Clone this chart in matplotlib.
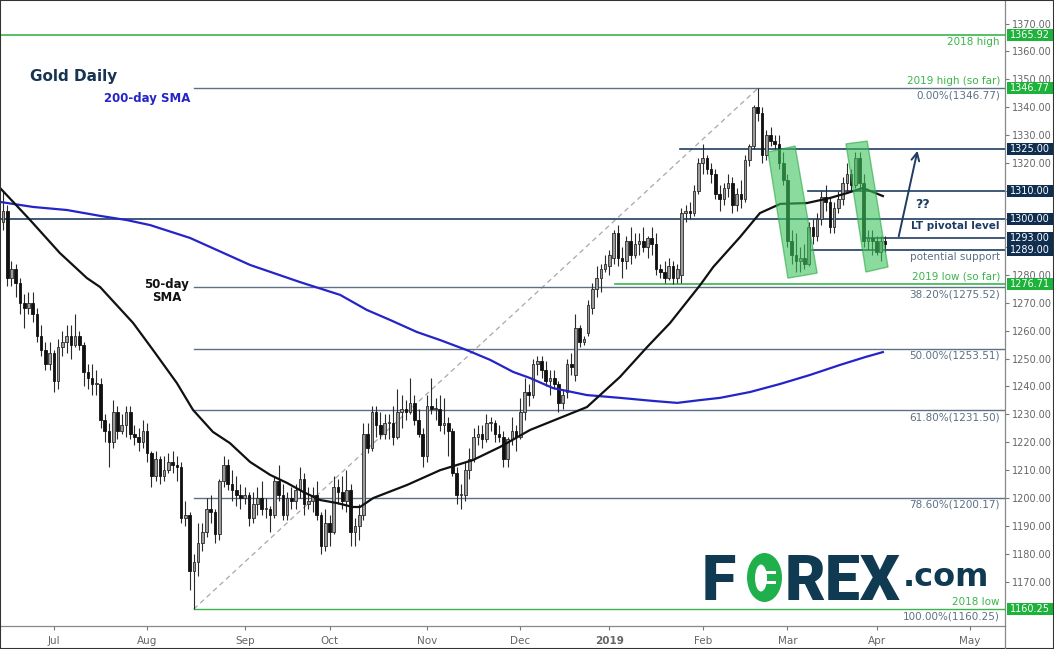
import numpy as np
import pandas as pd
import matplotlib
matplotlib.use("Agg")
import matplotlib.pyplot as plt
from matplotlib.patches import Polygon, Ellipse, Rectangle
from matplotlib.lines import Line2D

# daily gold candles, 14 Jun 2018 - 3 Apr 2019 (no candle on 1 Jan)
opens = [
    1299, 1303, 1279, 1282, 1277, 1270, 1268, 1270, 1266, 1258, 1253, 1248,
    1252, 1242, 1254, 1256, 1258, 1255, 1258, 1255, 1245, 1243, 1241, 1241,
    1228, 1224, 1220, 1231, 1224, 1226, 1231, 1223, 1222, 1220,
    1224, 1216, 1208, 1214, 1208, 1210, 1213, 1212, 1211, 1193, 1194, 1174,
    1177, 1184, 1188, 1196, 1195, 1187, 1206, 1212, 1205, 1203, 1201,
    1200, 1201, 1193, 1198, 1200, 1196, 1196, 1194, 1206, 1201, 1194, 1200,
    1199, 1203, 1207, 1198, 1199, 1201, 1194, 1183,
    1191, 1188, 1204, 1202, 1199, 1203, 1188, 1190, 1194, 1223, 1218, 1231,
    1226, 1223, 1227, 1227, 1222, 1231, 1232, 1231, 1234, 1228, 1223,
    1215, 1233, 1232, 1232, 1226, 1227, 1224, 1209, 1201, 1201, 1210, 1214,
    1222, 1223, 1221, 1227, 1227, 1223, 1222, 1214, 1221, 1224,
    1222, 1231, 1238, 1237, 1248, 1249, 1246, 1242, 1243, 1241, 1234, 1238,
    1248, 1244, 1261, 1256, 1259, 1268, 1275, 1279,
    1282, 1283, 1286, 1295, 1286, 1285, 1292, 1287, 1291, 1292, 1290, 1293,
    1291, 1282, 1281, 1279, 1283, 1279, 1280, 1302, 1303, 1302, 1310,
    1320, 1322, 1318, 1316, 1309, 1307, 1311, 1313, 1305, 1309, 1307, 1321,
    1326, 1340, 1338, 1323, 1330, 1328, 1327, 1320,
    1314, 1292, 1287, 1285, 1286, 1284, 1297, 1294, 1300, 1308, 1306, 1297,
    1304, 1307, 1313, 1316, 1312, 1322, 1313, 1292, 1293, 1292,
    1288, 1292,
]
highs = [
    1310, 1305, 1285, 1284, 1279, 1273, 1274, 1274, 1268, 1262, 1256, 1256,
    1253, 1257, 1260, 1262, 1262, 1266, 1260, 1256, 1248, 1248, 1246, 1243,
    1230, 1227, 1235, 1233, 1230, 1233, 1233, 1226, 1225, 1228,
    1227, 1217, 1217, 1215, 1215, 1216, 1217, 1215, 1213, 1199, 1195, 1180,
    1191, 1191, 1200, 1201, 1196, 1207, 1215, 1214, 1210, 1208, 1205,
    1204, 1202, 1202, 1204, 1206, 1200, 1197, 1208, 1212, 1205, 1202, 1204,
    1205, 1211, 1209, 1204, 1204, 1206, 1195, 1196,
    1194, 1208, 1207, 1208, 1210, 1205, 1193, 1198, 1227, 1227, 1233, 1233,
    1231, 1230, 1230, 1233, 1239, 1237, 1235, 1243, 1237, 1232, 1225,
    1237, 1243, 1236, 1237, 1236, 1229, 1225, 1211, 1205, 1213, 1218, 1225,
    1226, 1226, 1230, 1229, 1228, 1226, 1224, 1222, 1229, 1226,
    1236, 1243, 1241, 1250, 1251, 1251, 1249, 1246, 1246, 1242, 1239, 1250,
    1252, 1266, 1262, 1258, 1271, 1277, 1283, 1284,
    1287, 1289, 1296, 1298, 1290, 1294, 1297, 1295, 1295, 1297, 1294, 1297,
    1295, 1284, 1285, 1286, 1285, 1284, 1304, 1305, 1306, 1312, 1322,
    1327, 1323, 1320, 1318, 1312, 1313, 1316, 1315, 1311, 1314, 1323, 1327,
    1341, 1346.77, 1340, 1332, 1333, 1330, 1330, 1324,
    1316, 1296, 1295, 1290, 1291, 1299, 1300, 1302, 1310, 1312, 1308, 1306,
    1310, 1315, 1320, 1318, 1324, 1324, 1316, 1296, 1296, 1294,
    1294, 1294,
]
lows = [
    1296, 1276, 1276, 1272, 1266, 1261, 1266, 1263, 1256, 1251, 1246, 1246,
    1238, 1239, 1251, 1252, 1250, 1254, 1253, 1240, 1239, 1237, 1237, 1225,
    1220, 1211, 1218, 1221, 1223, 1222, 1221, 1219, 1217, 1218,
    1213, 1204, 1206, 1205, 1206, 1209, 1209, 1206, 1191, 1190, 1167, 1160.25,
    1172, 1181, 1186, 1191, 1184, 1185, 1204, 1203, 1199, 1197, 1196,
    1198, 1190, 1191, 1194, 1194, 1193, 1188, 1193, 1199, 1192, 1192, 1196,
    1196, 1200, 1194, 1196, 1195, 1192, 1180, 1181,
    1183, 1187, 1198, 1196, 1195, 1183, 1183, 1185, 1192, 1216, 1217, 1222,
    1221, 1221, 1221, 1219, 1221, 1225, 1228, 1230, 1226, 1222, 1211,
    1213, 1230, 1228, 1224, 1223, 1215, 1208, 1198, 1196, 1199, 1207, 1213,
    1219, 1218, 1220, 1224, 1220, 1220, 1211, 1211, 1219, 1217,
    1221, 1228, 1233, 1236, 1244, 1243, 1240, 1237, 1239, 1231, 1232, 1236,
    1244, 1242, 1254, 1255, 1258, 1266, 1272, 1274,
    1281, 1280, 1284, 1283, 1279, 1282, 1284, 1286, 1287, 1288, 1286, 1287,
    1280, 1279, 1277, 1278, 1276.71, 1277, 1277, 1299, 1300, 1301, 1309,
    1316, 1316, 1313, 1307, 1303, 1305, 1308, 1302, 1303, 1304, 1306, 1319,
    1325, 1335, 1320, 1321, 1326, 1325, 1318, 1312,
    1290, 1284, 1281, 1281, 1282, 1283, 1291, 1292, 1298, 1303, 1295, 1295,
    1302, 1305, 1310, 1310, 1311, 1310, 1290, 1289, 1287, 1287,
    1285, 1288,
]
closes = [
    1303, 1279, 1282, 1277, 1270, 1268, 1270, 1266, 1258, 1253, 1248, 1252,
    1242, 1254, 1256, 1258, 1255, 1258, 1255, 1245, 1243, 1241, 1241, 1228,
    1224, 1220, 1231, 1224, 1226, 1231, 1223, 1222, 1220, 1224,
    1216, 1208, 1214, 1208, 1210, 1213, 1212, 1211, 1193, 1194, 1174, 1177,
    1184, 1188, 1196, 1195, 1187, 1206, 1212, 1205, 1203, 1201, 1200,
    1201, 1193, 1198, 1200, 1196, 1196, 1194, 1206, 1201, 1194, 1200, 1199,
    1203, 1207, 1198, 1199, 1201, 1194, 1183, 1191,
    1188, 1204, 1202, 1199, 1203, 1188, 1190, 1194, 1223, 1218, 1231, 1226,
    1223, 1227, 1227, 1222, 1231, 1232, 1231, 1234, 1228, 1223, 1215,
    1233, 1232, 1232, 1226, 1227, 1224, 1209, 1201, 1201, 1210, 1214, 1222,
    1223, 1221, 1227, 1227, 1223, 1222, 1214, 1221, 1224, 1222,
    1231, 1238, 1237, 1248, 1249, 1246, 1242, 1243, 1241, 1234, 1237, 1248,
    1247, 1261, 1256, 1257, 1269, 1275, 1279, 1282,
    1284, 1287, 1295, 1286, 1285, 1292, 1287, 1291, 1292, 1290, 1293, 1291,
    1282, 1281, 1279, 1283, 1279, 1282, 1302, 1303, 1302, 1310, 1320,
    1322, 1318, 1316, 1309, 1307, 1311, 1313, 1305, 1309, 1307, 1321, 1326,
    1340, 1338, 1323, 1330, 1328, 1327, 1320, 1314,
    1292, 1287, 1285, 1286, 1284, 1297, 1294, 1300, 1308, 1306, 1297, 1304,
    1307, 1313, 1316, 1312, 1322, 1313, 1292, 1293, 1292, 1288,
    1292, 1291,
]

# moving averages: candle position -> price
sma50_pos = [-0.7, 2.4, 6.4, 13.4, 19.8, 22.9, 30.7, 35.4, 41.0, 44.8, 49.5,
             53.5, 58.3, 63.0, 67.0, 70.8, 74.8, 78.8, 82.5, 84.2, 87.3, 95.3,
             103.1, 110.8, 117.2, 124.3, 137.7, 145.5, 151.9, 157.3, 164.4,
             167.5, 173.8, 178.5, 183.3, 189.6, 195.0, 199.1, 202.8, 207.5]
sma50_val = [1311.1, 1306.1, 1299.6, 1287.8, 1278.8, 1275.6, 1262.7, 1253.0,
             1241.2, 1231.6, 1223.7, 1219.7, 1212.9, 1208.3, 1205.4, 1202.2,
             1199.3, 1198.2, 1196.8, 1196.8, 1200.0, 1204.7, 1210.0, 1213.6,
             1218.3, 1224.4, 1232.6, 1243.4, 1254.1, 1262.7, 1276.3, 1282.8,
             1293.5, 1302.1, 1305.4, 1305.7, 1307.5, 1309.3, 1311.1, 1308.2]
sma200_pos = [-0.7, 7.1, 15.1, 22.9, 29.2, 34.7, 44.1, 58.3, 70.0, 79.5, 85.8,
              91.3, 97.6, 103.1, 109.4, 114.9, 120.3, 124.3, 129.7, 137.7,
              145.5, 153.3, 159.0, 164.4, 169.1, 176.2, 183.3, 190.3, 197.4,
              203.3, 207.5]
sma200_val = [1306.1, 1304.3, 1303.2, 1301.1, 1299.6, 1297.8, 1293.2, 1283.5,
              1277.4, 1272.8, 1267.4, 1263.8, 1259.5, 1256.6, 1253.0, 1249.5,
              1245.2, 1243.0, 1239.4, 1236.9, 1235.9, 1234.8, 1234.1, 1235.1,
              1235.9, 1238.0, 1240.9, 1244.1, 1247.7, 1250.5, 1252.3]

high_2018 = 1365.92
fib_ratios = [0.0, 0.382, 0.5, 0.618, 0.786, 1.0]
# key levels: price, first candle position of the line
levels = [1325.0, 1310.0, 1300.0, 1293.0, 1289.0]
level_start = [159.7, 189.9, -1.0, 203.5, 190.8]
low_2019 = 1276.71
low_2019_start = 144.3

NAVY = '#1f3d63'
FIB = '#5d7084'
GREEN = '#3ab54a'
BOX_GREEN = '#1db33b'
BOX_NAVY = '#0f2e50'
LOGO = '#0f3a52'

W, H = 1054, 649
fig = plt.figure(figsize=(W / 100, H / 100), dpi=100)
ax = fig.add_axes([0, 23 / H, 1005 / W, 626 / H])

o = np.array(opens, float)
h = np.array(highs, float)
l = np.array(lows, float)
c = np.array(closes, float)
x = np.arange(len(c))
up = c >= o

# candles
ax.vlines(x, l, h, color='#2a2a2a', lw=0.8, zorder=3)
body_low = np.minimum(o, c)
body_h = np.maximum(np.abs(c - o), 0.4)
ax.bar(x[up], body_h[up], bottom=body_low[up], width=0.62, color='#9b9b9b',
       edgecolor='#2a2a2a', lw=0.6, zorder=4)
ax.bar(x[~up], body_h[~up], bottom=body_low[~up], width=0.62, color='#111111',
       edgecolor='#111111', lw=0.6, zorder=4)

# moving averages
ax.plot(sma200_pos, sma200_val, color='#2424c8', lw=1.6, zorder=5)
ax.plot(sma50_pos, sma50_val, color='#111111', lw=1.6, zorder=5)

# fibonacci retracement from the 2018 low to the 2019 high
i_low, i_high = int(np.argmin(l)), int(np.argmax(h))
p_low, p_high = l[i_low], h[i_high]
x_right = 236.3
ax.plot([i_low, i_high], [p_low, p_high], color='#a8a8a8', lw=0.9,
        dashes=(4, 3), zorder=2)
for r in fib_ratios:
    lvl = p_high - r * (p_high - p_low)
    col = GREEN if r == 1.0 else FIB
    ax.plot([i_low, x_right], [lvl, lvl], color=col, lw=1.0, zorder=2)
    ax.annotate(f"{r * 100:.2f}%({lvl:.2f})", xy=(0.995, lvl),
                xycoords=ax.get_yaxis_transform(), xytext=(0, -1.5),
                textcoords='offset points', ha='right', va='top',
                fontsize=7.5, color=FIB, zorder=7)

# horizontal key levels
ax.axhline(high_2018, color=GREEN, lw=1.2, zorder=2)
for lvl, start in zip(levels, level_start):
    ax.plot([start, x_right], [lvl, lvl], color=NAVY, lw=1.2, zorder=2)
ax.plot([low_2019_start, x_right], [low_2019, low_2019], color=GREEN, lw=1.2,
        zorder=2)


def side_note(text, price, above, color, bold=False):
    ax.annotate(text, xy=(0.995, price), xycoords=ax.get_yaxis_transform(),
                xytext=(0, 1.5 if above else -1.5), textcoords='offset points',
                ha='right', va='bottom' if above else 'top', fontsize=7.5,
                color=color, fontweight='bold' if bold else 'normal', zorder=7)


side_note('2018 high', high_2018, False, GREEN)
side_note('2019 high (so far)', p_high, True, GREEN)
side_note('LT pivotal level', 1300.0, False, NAVY, bold=True)
side_note('potential support', 1289.0, False, FIB)
side_note('2019 low (so far)', low_2019, True, GREEN)
side_note('2018 low', p_low, True, GREEN)

# price boxes on the right axis
box_prices = [high_2018, p_high, 1325.0, 1310.0, 1300.0, 1293.0, 1289.0,
              low_2019, p_low]
box_colors = [BOX_GREEN, BOX_GREEN, BOX_NAVY, BOX_NAVY, BOX_NAVY, BOX_NAVY,
              BOX_NAVY, BOX_GREEN, BOX_GREEN]
px_per_usd = 626 / (1378.45 - 1154.16)
ytrans = ax.get_yaxis_transform()
for bp, bc in zip(box_prices, box_colors):
    ax.add_patch(Rectangle((1.002, bp - 6 / px_per_usd), 46 / 1005,
                           12 / px_per_usd, transform=ytrans, fc=bc, ec='none',
                           clip_on=False, zorder=8))
    ax.text(1.002 + 23 / 1005, bp, f"{bp:.2f}", transform=ytrans, ha='center',
            va='center', fontsize=7, color='white', clip_on=False, zorder=9)

# highlighted sell-offs
box1 = [(180.4, 1324.0), (186.8, 1326.1), (192.0, 1280.6), (185.1, 1278.8)]
box2 = [(198.8, 1326.9), (203.8, 1327.9), (208.7, 1282.8), (203.5, 1281.0)]
for pts in (box1, box2):
    ax.add_patch(Polygon(pts, closed=True, fc='#3cc45c', ec='#2aa845',
                         alpha=0.6, lw=1.0, zorder=6))

# projected move
ax.annotate('', xy=(215.8, 1325.4), xytext=(211.1, 1292.8),
            arrowprops=dict(arrowstyle='->', color=NAVY, lw=1.4,
                            mutation_scale=14), zorder=7)

ax.text(0.918, 0.674, '??', transform=ax.transAxes, ha='center', va='center',
        fontsize=9, fontweight='bold', color=NAVY)
ax.text(0.030, 0.877, 'Gold Daily', transform=ax.transAxes, ha='left',
        va='center', fontsize=11, fontweight='bold', color='#183453')
ax.text(0.146, 0.843, '200-day SMA', transform=ax.transAxes, ha='center',
        va='center', fontsize=8.5, fontweight='bold', color='#2424c8')
ax.text(0.166, 0.535, '50-day\nSMA', transform=ax.transAxes, ha='center',
        va='center', fontsize=8.5, fontweight='bold', color='#111111',
        linespacing=1.0)


# axes
def price_fmt(v, _):
    # labels hidden behind a price box are left out
    if min(abs(v - bp) for bp in box_prices) < 3:
        return ''
    return f"{v:.2f}"


ax.set_xlim(-0.71, x_right)
ax.set_ylim(1154.16, 1378.45)
ax.yaxis.tick_right()
ax.set_yticks(np.arange(1170, 1371, 10))
ax.yaxis.set_major_formatter(plt.FuncFormatter(price_fmt))
ax.tick_params(axis='y', labelsize=7, colors='#777777', labelcolor='#666666',
               length=3, width=0.8, pad=2)

days = pd.bdate_range('2018-06-14', '2019-05-31')
days = days[days != pd.Timestamp('2019-01-01')]
tick_pos = [i for i in range(1, len(days)) if days[i].month != days[i - 1].month]
tick_lab = ['2019' if days[i].month == 1 else days[i].strftime('%b')
            for i in tick_pos]
ax.set_xticks(tick_pos)
ax.set_xticklabels(tick_lab)
ax.tick_params(axis='x', labelsize=7.5, colors='#777777', labelcolor='#666666',
               length=3, width=0.8, pad=4)
for t in ax.get_xticklabels():
    if t.get_text() == '2019':
        t.set_fontweight('bold')

for side in ('top', 'left'):
    ax.spines[side].set_visible(False)
for side in ('right', 'bottom'):
    ax.spines[side].set_color('#888888')
    ax.spines[side].set_linewidth(0.9)

# divider below the price scale and outer frame
fig.add_artist(Line2D([1005 / W, 1005 / W], [0, 23 / H], color='#888888',
                      lw=0.9))
fig.add_artist(Rectangle((0, 0), 1, 1, transform=fig.transFigure, fill=False,
                         ec='#333333', lw=1.5))


# FOREX.com logo
def fpx(px, py):
    return px / W, 1 - py / H


fig.text(*fpx(702, 600), 'F', color=LOGO, fontsize=45, fontweight='black',
         family='Roboto', ha='left', va='baseline')
fig.add_artist(Ellipse(fpx(764.5, 577.5), 35 / W, 49 / H,
                       transform=fig.transFigure, fc='#20b04b', ec='none'))
fig.add_artist(Ellipse(fpx(761, 578), 12 / W, 27 / H,
                       transform=fig.transFigure, fc='white', ec='none'))
fig.add_artist(Rectangle(fpx(762, 574), 14 / W, 3 / H,
                         transform=fig.transFigure, fc='white', ec='none'))
fig.add_artist(Rectangle(fpx(762, 584), 14 / W, 3 / H,
                         transform=fig.transFigure, fc='white', ec='none'))
fig.text(*fpx(785, 600), 'REX', color=LOGO, fontsize=45, fontweight='black',
         family='Roboto', ha='left', va='baseline')
fig.text(*fpx(903, 586), '.com', color=LOGO, fontsize=23, fontweight='bold',
         family='DejaVu Sans', ha='left', va='baseline')

fig.savefig('out.png', dpi=100)
